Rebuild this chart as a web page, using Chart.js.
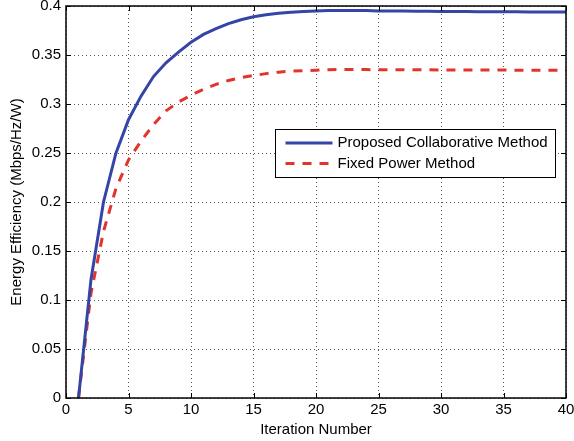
<!DOCTYPE html>
<html>
<head>
<meta charset="utf-8">
<script src="https://cdn.jsdelivr.net/npm/chart.js@4"></script>
<style>
  body { margin: 0; background: #fff; }
  #wrap { width: 574px; height: 441px; }
</style>
</head>
<body>
<div id="wrap"><canvas id="myChart" width="574" height="441"></canvas></div>
<script>
var iterations = [1,2,3,4,5,6,7,8,9,10,11,12,13,14,15,16,17,18,19,20,
  21,22,23,24,25,26,27,28,29,30,31,32,33,34,35,36,37,38,39,40];
var proposed = [0, 0.121, 0.2, 0.25, 0.284, 0.308, 0.328, 0.342, 0.353, 0.363,
  0.371, 0.377, 0.382, 0.386, 0.389, 0.391, 0.3925, 0.3937, 0.3945, 0.395,
  0.3953, 0.3955, 0.3955, 0.3953, 0.395, 0.395, 0.3948, 0.3947, 0.3946, 0.3945,
  0.3944, 0.3943, 0.3942, 0.3942, 0.3941, 0.3941, 0.394, 0.394, 0.394, 0.394];
var fixedPower = [0, 0.107, 0.17, 0.214, 0.243, 0.262, 0.279, 0.293, 0.302, 0.309,
  0.315, 0.32, 0.324, 0.327, 0.329, 0.331, 0.3325, 0.3335, 0.334, 0.3345,
  0.335, 0.3352, 0.3352, 0.3351, 0.335, 0.335, 0.335, 0.3349, 0.3349, 0.3348,
  0.3348, 0.3347, 0.3347, 0.3346, 0.3346, 0.3345, 0.3345, 0.3345, 0.3345, 0.3345];
var xTicks = [0, 5, 10, 15, 20, 25, 30, 35, 40];
var yTicks = [0, 0.05, 0.1, 0.15, 0.2, 0.25, 0.3, 0.35, 0.4];

function toPoints(vals) {
  return iterations.map(function (x, i) { return { x: x, y: vals[i] }; });
}

var FONT = "'Liberation Sans', Arial, Helvetica, sans-serif";

// box, inward ticks and legend, matlab style
var matlabBox = {
  id: "matlabBox",
  afterDraw: function (chart) {
    var ctx = chart.ctx;
    var a = chart.chartArea;
    var xs = chart.scales.x, ys = chart.scales.y;
    ctx.save();
    ctx.strokeStyle = "#000";
    ctx.lineWidth = 1;
    ctx.beginPath();
    xTicks.forEach(function (t) {
      var px = Math.round(xs.getPixelForValue(t)) + 0.5;
      ctx.moveTo(px, a.bottom); ctx.lineTo(px, a.bottom - 5);
      ctx.moveTo(px, a.top); ctx.lineTo(px, a.top + 5);
    });
    yTicks.forEach(function (t) {
      var py = Math.round(ys.getPixelForValue(t)) + 0.5;
      ctx.moveTo(a.left, py); ctx.lineTo(a.left + 5, py);
      ctx.moveTo(a.right, py); ctx.lineTo(a.right - 5, py);
    });
    ctx.stroke();
    ctx.lineWidth = 1.5;
    ctx.strokeRect(a.left, a.top, a.right - a.left, a.bottom - a.top);

    // legend
    var lx = 275.5, ly = 129.5, lw = 280, lh = 48;
    ctx.fillStyle = "#fff";
    ctx.fillRect(lx, ly, lw, lh);
    ctx.lineWidth = 1;
    ctx.strokeStyle = "#000";
    ctx.strokeRect(lx, ly, lw, lh);
    ctx.font = "15px " + FONT;
    ctx.textBaseline = "middle";
    chart.data.datasets.forEach(function (ds, i) {
      var y = ly + 13.5 + i * 20.5;
      ctx.strokeStyle = ds.borderColor;
      ctx.lineWidth = ds.borderWidth;
      ctx.setLineDash(ds.borderDash || []);
      ctx.beginPath();
      ctx.moveTo(lx + 10, y); ctx.lineTo(lx + 57, y);
      ctx.stroke();
      ctx.setLineDash([]);
      ctx.fillStyle = "#000";
      ctx.fillText(ds.label, lx + 62, y);
    });
    ctx.restore();
  }
};

var ctx = document.getElementById("myChart").getContext("2d");
var myChart = new Chart(ctx, {
  type: "line",
  data: {
    datasets: [
      {
        label: "Proposed Collaborative Method",
        borderColor: "#3445a6",
        borderWidth: 3,
        fill: false,
        pointRadius: 0,
        tension: 0,
        data: toPoints(proposed),
      },
      {
        label: "Fixed Power Method",
        borderColor: "#e3342c",
        borderWidth: 3,
        borderDash: [9, 8],
        fill: false,
        pointRadius: 0,
        tension: 0,
        data: toPoints(fixedPower),
      },
    ],
  },
  options: {
    responsive: false,
    animation: false,
    layout: { padding: { top: 6, right: 8, left: 0, bottom: 0 } },
    plugins: { legend: { display: false }, tooltip: { enabled: false } },
    scales: {
      x: {
        type: "linear",
        min: 0,
        max: 40,
        afterBuildTicks: function (s) { s.ticks = xTicks.map(function (v) { return { value: v }; }); },
        afterFit: function (s) { s.height = 43; s.paddingLeft = 0; s.paddingRight = 0; },
        ticks: { color: "#000", padding: 3, font: { size: 15, family: FONT }, maxRotation: 0 },
        grid: { color: "#555", drawTicks: false, lineWidth: 1 },
        border: { display: false, dash: [1, 3] },
        title: { display: true, text: "Iteration Number", color: "#000",
          font: { size: 15, family: FONT }, padding: { top: 0, bottom: 2 } },
      },
      y: {
        min: 0,
        max: 0.4,
        afterBuildTicks: function (s) { s.ticks = yTicks.map(function (v) { return { value: v }; }); },
        afterFit: function (s) { s.width = 66; s.paddingTop = 0; s.paddingBottom = 0; },
        ticks: { color: "#000", padding: 5, font: { size: 15, family: FONT },
          callback: function (v) { return String(+v.toFixed(2)); } },
        grid: { color: "#555", drawTicks: false, lineWidth: 1 },
        border: { display: false, dash: [1, 3] },
        title: { display: true, text: "Energy Efficiency (Mbps/Hz/W)", color: "#000",
          font: { size: 15, family: FONT }, padding: { top: 8, bottom: 0 } },
      },
    },
  },
  plugins: [matlabBox],
});
</script>
</body>
</html>
